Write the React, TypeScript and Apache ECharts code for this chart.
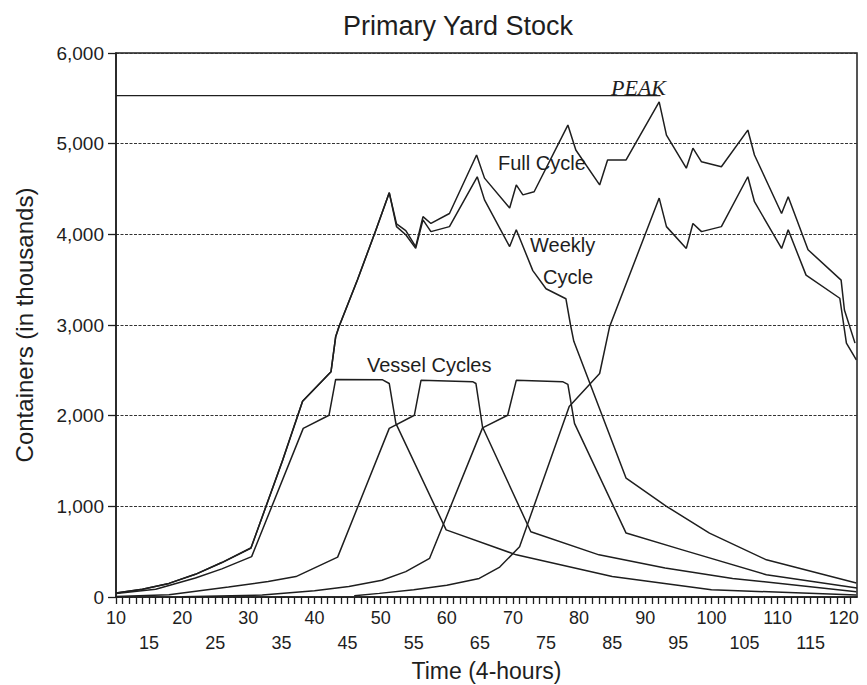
import React, { useEffect, useRef } from "react";
import * as echarts from "echarts";

const chartTitle = "Primary Yard Stock";
const xAxisName = "Time (4-hours)";
const yAxisName = "Containers (in thousands)";
const xMin = 10;
const xMax = 122;
const xTickStep = 1;
const yMax = 6000;
const yStep = 1000;

type Pt = [number, number];

const fullCycle: Pt[] = [
  [10, 45], [14, 85], [18, 150], [22, 250], [26, 380], [30.4, 540], [35.2, 1510], [38.2, 2160],
  [42.5, 2485], [43.2, 2870], [43.7, 2980], [46.5, 3500], [49.3, 4050], [51.3, 4460], [52.4, 4115],
  [53.8, 4040], [55.3, 3865], [56.4, 4195], [57.6, 4120], [60.4, 4230], [64.5, 4875], [65.7, 4620],
  [69.5, 4290], [70.5, 4545], [71.5, 4435], [73.2, 4470], [78.3, 5205], [79.5, 4930], [83.1, 4545],
  [84.3, 4820], [87.1, 4820], [92.1, 5460], [93.2, 5095], [96.2, 4730], [97.2, 4950], [98.5, 4800],
  [101.5, 4745], [105.5, 5150], [106.5, 4875], [110.6, 4230], [111.6, 4415], [114.6, 3830],
  [119.6, 3495], [120.1, 3165], [121.7, 2800],
];

const weeklyCycle1: Pt[] = [
  [10, 45], [14, 85], [18, 150], [22, 250], [26, 380], [30.4, 540], [35.2, 1510], [38.2, 2160],
  [42.5, 2485], [43.2, 2870], [43.7, 2980], [46.5, 3500], [49.3, 4050], [51.3, 4460], [52.4, 4085],
  [53.8, 3995], [55.3, 3845], [56.4, 4160], [57.6, 4030], [60.4, 4085], [64.6, 4635], [65.7, 4380],
  [69.5, 3865], [70.5, 4050], [73, 3600], [75, 3400], [78, 3290], [78.7, 3000], [79.2, 2820],
  [87.1, 1310], [93.2, 1000], [99.7, 705], [108.3, 410], [121.9, 155],
];

const weeklyCycle2: Pt[] = [
  [46, 15], [49.8, 40], [55, 80], [60, 130], [64.9, 205], [68, 330], [71, 555], [78.5, 2100],
  [83.1, 2465], [84.6, 2980], [92.1, 4400], [93.2, 4085], [96.2, 3845], [97.2, 4120], [98.5, 4030],
  [101.5, 4085], [105.5, 4635], [106.5, 4360], [110.6, 3845], [111.6, 4050], [114.3, 3550],
  [119.4, 3295], [120.4, 2800], [121.9, 2615],
];

const vessel1: Pt[] = [
  [10, 38], [16, 85], [22, 210], [26, 310], [30.5, 445], [38.3, 1860], [42.2, 2005], [43.2, 2400],
  [50.3, 2395], [51.3, 2355], [52.3, 1915], [59.9, 740], [70.5, 465], [85, 225], [100, 80], [121.9, 22],
];

const vessel2: Pt[] = [
  [10, 5], [18, 25], [27, 110], [33, 170], [37.2, 225], [43.5, 440], [51.3, 1860], [55.1, 2005],
  [56.1, 2390], [63.9, 2375], [64.4, 2355], [65.4, 1875], [72.7, 720], [83, 465], [93, 320],
  [103.2, 205], [121.9, 58],
];

const vessel3: Pt[] = [
  [20, 3], [32.1, 22], [40, 70], [45.2, 115], [50.2, 185], [53.8, 280], [57.4, 427], [65.4, 1865],
  [69.2, 2005], [70.5, 2390], [77.5, 2375], [78.3, 2345], [79.3, 1915], [87.1, 705], [95.6, 520],
  [108.3, 245], [122, 100],
];

const peakLevel = 5530;
const peakLine: Pt[] = [[10, peakLevel], [92.3, peakLevel]];

const peakLabel = "PEAK";
const fullLabel = "Full Cycle";
const weeklyLabel1 = "Weekly";
const weeklyLabel2 = "Cycle";
const vesselLabel = "Vessel Cycles";

const FONT = "'Liberation Sans', Arial, Helvetica, sans-serif";
const INK = "#1e1e1e";

export default function App() {
  const ref = useRef<HTMLDivElement>(null);

  useEffect(() => {
    if (!ref.current) return;
    const chart = echarts.init(ref.current, undefined, { renderer: "svg" });

    const lineSeries = (name: string, data: Pt[]) => ({
      name,
      type: "line",
      data,
      symbol: "none",
      smooth: false,
      lineStyle: { color: INK, width: 1.5 },
      z: 3,
    });

    const annot = (text: string, x: number, y: number, extra: any = {}) => ({
      type: "text",
      x,
      y,
      z: 10,
      style: {
        text,
        fill: INK,
        font: `20px ${FONT}`,
        textAlign: "left",
        textVerticalAlign: "middle",
        ...extra,
      },
    });

    chart.setOption({
      animation: false,
      backgroundColor: "#ffffff",
      title: {
        text: chartTitle,
        left: 338,
        top: 7,
        textStyle: { fontFamily: FONT, fontSize: 27, fontWeight: "normal", color: INK },
      },
      grid: {
        left: 116,
        right: 10,
        top: 53,
        bottom: 88,
        containLabel: false,
        outerBoundsMode: "none",
        show: true,
        borderColor: INK,
        borderWidth: 1.5,
        backgroundColor: "transparent",
      },
      xAxis: {
        type: "value",
        min: xMin,
        max: xMax,
        interval: xTickStep,
        name: xAxisName,
        nameLocation: "middle",
        nameGap: 57,
        nameTextStyle: { fontFamily: FONT, fontSize: 23, color: INK },
        axisLine: { show: true, onZero: false, lineStyle: { color: INK, width: 1.5 } },
        axisTick: { show: true, length: 7, lineStyle: { color: INK, width: 1.3 } },
        axisLabel: {
          fontFamily: FONT,
          fontSize: 18,
          color: INK,
          margin: 8,
          lineHeight: 25,
          showMaxLabel: false,
          formatter: (v: number) => {
            if (v % 10 === 0) return String(v);
            if (v % 5 === 0) return "\n" + v;
            return "";
          },
        },
        splitLine: { show: false },
      },
      yAxis: {
        type: "value",
        min: 0,
        max: yMax,
        interval: yStep,
        name: yAxisName,
        nameLocation: "middle",
        nameRotate: 90,
        nameGap: 80,
        nameTextStyle: { fontFamily: FONT, fontSize: 24, color: INK },
        axisLine: { show: true, lineStyle: { color: INK, width: 1.5 } },
        axisTick: { show: true, length: 8, lineStyle: { color: INK, width: 1.3 } },
        axisLabel: {
          fontFamily: FONT,
          fontSize: 19,
          color: INK,
          margin: 12,
          formatter: (v: number) => v.toLocaleString("en-US"),
        },
        splitLine: { show: true, lineStyle: { color: "#333333", width: 1.2, type: [3, 1.5] } },
      },
      series: [
        lineSeries("Full Cycle", fullCycle),
        lineSeries("Weekly Cycle 1", weeklyCycle1),
        lineSeries("Weekly Cycle 2", weeklyCycle2),
        lineSeries("Vessel Cycle 1", vessel1),
        lineSeries("Vessel Cycle 2", vessel2),
        lineSeries("Vessel Cycle 3", vessel3),
        { ...lineSeries("Peak", peakLine), lineStyle: { color: INK, width: 1.4 } },
      ],
      graphic: [
        annot(peakLabel, 611, 87, { font: `italic 22px 'Liberation Serif', 'Times New Roman', serif` }),
        annot(fullLabel, 498, 163),
        annot(weeklyLabel1, 530, 245),
        annot(weeklyLabel2, 543, 277),
        annot(vesselLabel, 367, 365),
      ],
    });

    return () => chart.dispose();
  }, []);

  return (
    <div
      ref={ref}
      style={{ position: "fixed", left: 0, top: 0, width: 867, height: 685, background: "#fff" }}
    />
  );
}
